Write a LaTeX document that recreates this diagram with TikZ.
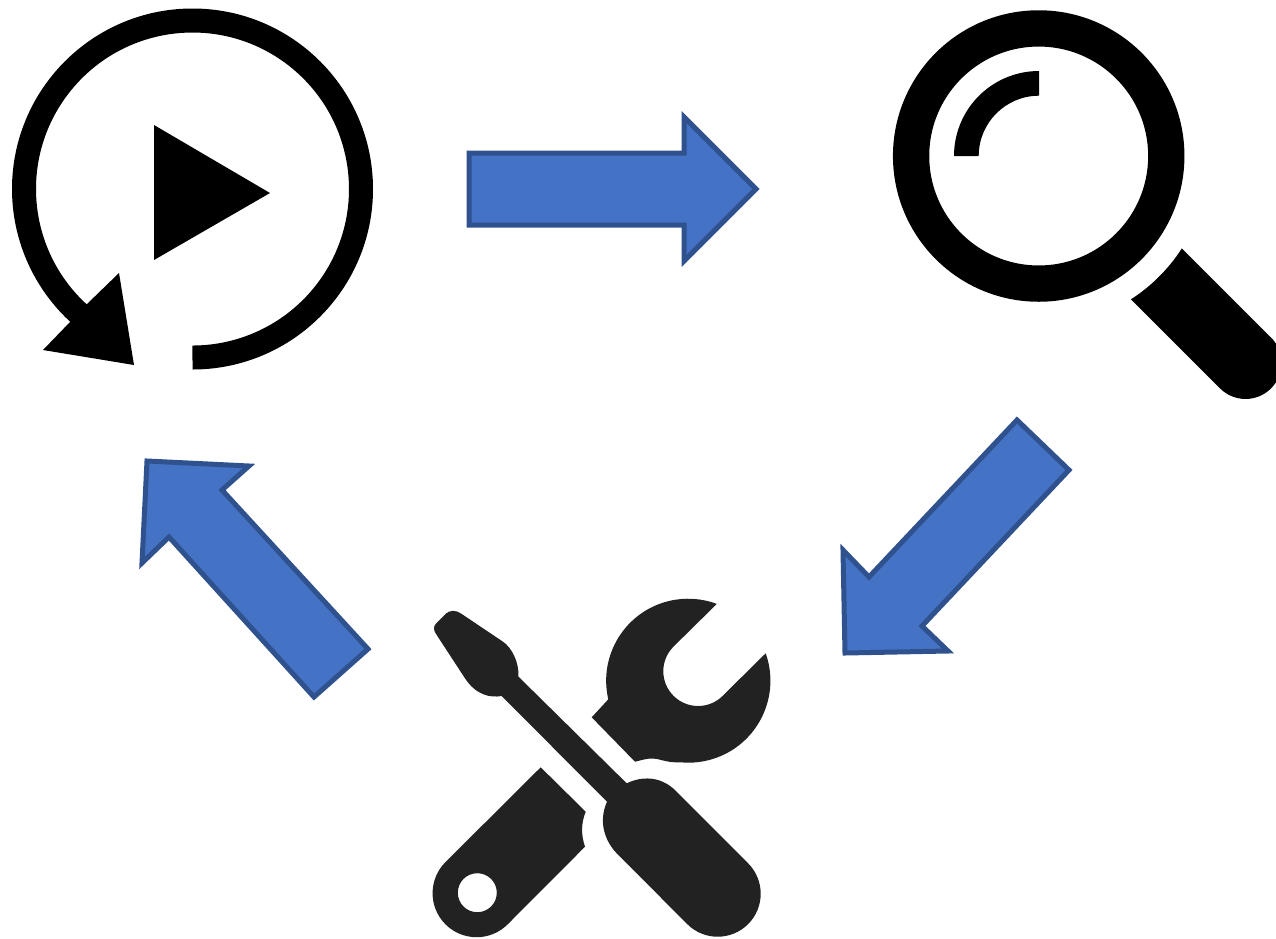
\documentclass[tikz,border=0pt]{standalone}
\usepackage{amsmath,amssymb}
\definecolor{arrowblue}{HTML}{4472C4}
\definecolor{arrowedge}{HTML}{2F528F}
\definecolor{tooldark}{HTML}{222222}
\tikzset{
  cyclearrow/.style={fill=arrowblue,draw=arrowedge,line width=0.1cm,line join=miter},
  toolshape/.style={fill=tooldark,even odd rule}
}
\begin{document}
\begin{tikzpicture}[x=0.02cm,y=-0.02cm]
  % one unit = one pixel of the 1276x938 frame, y runs downwards
  \clip(0,0)rectangle(1276,938);
  \fill[white](0,0)rectangle(1276,938);

  % replay icon: ring, arrow head, play triangle
  % ring runs into the arrow head, inner end = centre + 156.5*(cos,sin) of -230
  \fill(192.5,369.5)arc[start angle=90,end angle=-230,radius=180.5]
    --(91.9,308.9)arc[start angle=-230,end angle=90,radius=156.5]--cycle;
  \fill(87,304)--(119,273)--(134,365)--(43,350)--(70,322)--cycle;
  \fill(154,125)--(270,193)--(154,260)--cycle;

  % magnifier: ring, glint, handle
  \draw[line width=0.726cm](1038.7,156)circle[radius=127.6];
  \fill(1039,71)arc[start angle=-90,end angle=-180,radius=85]
    --(978.7,156)arc[start angle=180,end angle=270,radius=60.3]--cycle;
  \fill(1181.7,248.3)--(1271,337.5)arc[start angle=-45,end angle=135,radius=36]
    --(1131,299.3)arc[start angle=57.2,end angle=32.8,radius=170]--cycle;

  % arrows of the cycle
  \draw[cyclearrow](469,153)--(684,153)--(684,117)--(756,189)--(684,261)--(684,225)--(469,225)--cycle;
  \draw[cyclearrow](1017,420)--(1069,470)--(922,626)--(948,651)--(845,653)--(843,550)--(869,577)--cycle;
  \draw[cyclearrow](368,649)--(314,697)--(169,537)--(142,563)--(147,461)--(249,466)--(222,490)--cycle;

  % screwdriver
  \fill[toolshape](436.7,635)..controls(433,630)and(433,626)..(437,622.5)--(446,613.5)
    ..controls(450,610)and(456,610)..(461,613.5)--(503,641.7)
    ..controls(512,648)and(519,662)..(518.5,676.7)--(626.7,783.3)
    ..controls(642,776)and(660,776)..(675,790)--(748.1,863.3)
    arc[start angle=-45,end angle=135,radius=43]--(616.7,853.3)
    ..controls(605,841)and(598,822)..(607,801.7)--(501.7,696)
    ..controls(490,698)and(476,695)..(465,678.3)--cycle;

  % wrench: handle with hole
  \fill[toolshape](540.7,767.3)--(585.7,811.7)..controls(581,823)and(581,835)..(585,846.7)
    --(507.7,924.3)arc[start angle=45,end angle=225,radius=44]--cycle
    (477.3,892.7)circle[radius=19.5];

  % wrench: open head
  \fill[toolshape](716.7,604)--(673.5,646.6)arc[start angle=225,end angle=45,radius=34.8]
    --(765.7,653.3)arc[start angle=-19.5,end angle=95.9,radius=82]
    ..controls(665,763)and(660,758)..(650,758.5)..controls(645,759)and(640,760.5)..(635,761.7)
    --(591.7,717.3)--(608.3,699.3)arc[start angle=166.9,end angle=290.2,radius=82]--cycle;
\end{tikzpicture}
\end{document}
